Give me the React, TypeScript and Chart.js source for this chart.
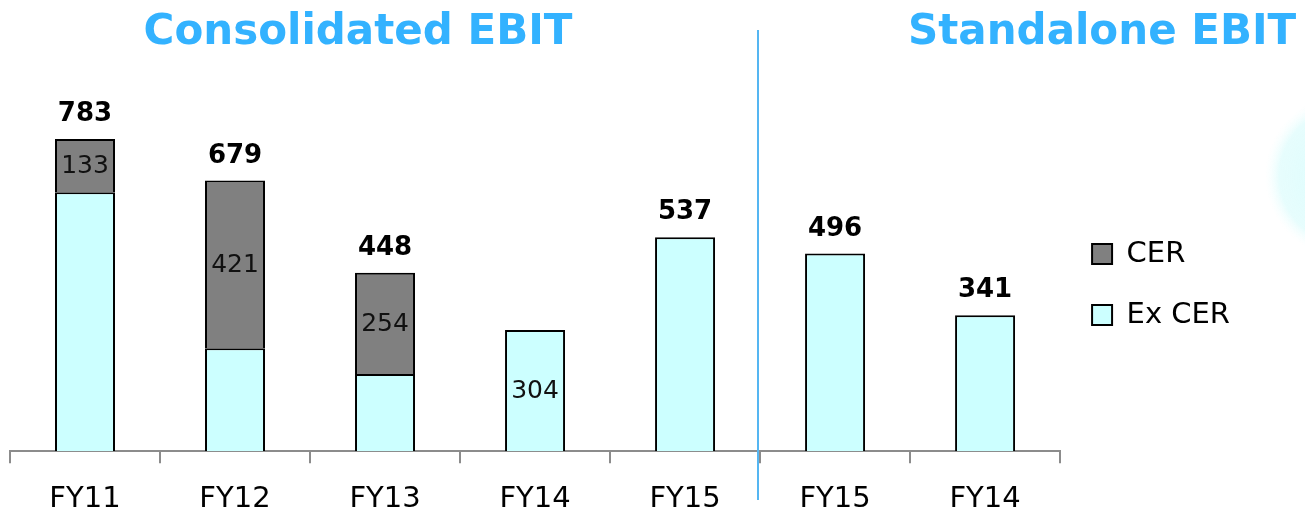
import React, { useEffect, useRef } from 'react';
import { Chart, registerables } from 'chart.js';

Chart.register(...registerables);

const categories = ['FY11', 'FY12', 'FY13', 'FY14', 'FY15', 'FY15', 'FY14'];
const exCerValues = [650, 258, 194, 304, 537, 496, 341];
const cerValues: (number | null)[] = [133, 421, 254, null, null, null, null];
const totalLabels: (number | null)[] = [783, 679, 448, null, 537, 496, 341];
const exCerInnerLabels: (number | null)[] = [null, null, null, 304, null, null, null];
const groupTitles = ['Consolidated EBIT', 'Standalone EBIT'];
const seriesNames = ['Ex CER', 'CER'];

const FONT = '"DejaVu Sans", Verdana, sans-serif';
const TITLE_COLOR = '#33B2FF';

const decorPlugin = {
  id: 'decor',
  beforeDraw(chart: any) {
    const { ctx, width } = chart;
    ctx.save();
    const cx = width + 42;
    const cy = 176;
    const g = ctx.createRadialGradient(cx, cy, 10, cx, cy, 82);
    g.addColorStop(0, 'rgba(210,252,252,0.8)');
    g.addColorStop(0.8, 'rgba(220,252,252,0.7)');
    g.addColorStop(1, 'rgba(240,255,255,0)');
    ctx.fillStyle = g;
    ctx.beginPath();
    ctx.arc(cx, cy, 82, 0, Math.PI * 2);
    ctx.fill();
    ctx.restore();
  },
  afterDraw(chart: any) {
    const { ctx } = chart;
    const xs = chart.scales.x;
    ctx.save();
    const sepX = Math.round((xs.getPixelForValue(4) + xs.getPixelForValue(5)) / 2) - 2;
    ctx.strokeStyle = '#55B6F2';
    ctx.lineWidth = 2;
    ctx.beginPath();
    ctx.moveTo(sepX, 30);
    ctx.lineTo(sepX, 500);
    ctx.stroke();
    ctx.fillStyle = TITLE_COLOR;
    ctx.font = `bold 42px ${FONT}`;
    ctx.textBaseline = 'alphabetic';
    ctx.textAlign = 'center';
    ctx.fillText(groupTitles[0], 358, 44);
    ctx.textAlign = 'left';
    ctx.fillText(groupTitles[1], 908, 44);
    ctx.restore();
  },
  afterDatasetsDraw(chart: any) {
    const { ctx } = chart;
    const exMeta = chart.getDatasetMeta(0);
    const cerMeta = chart.getDatasetMeta(1);
    ctx.save();
    ctx.textAlign = 'center';
    for (let i = 0; i < categories.length; i++) {
      const exEl = exMeta.data[i];
      const cerEl = cerMeta.data[i];
      const hasCer = cerValues[i] !== null;
      const topY = hasCer ? cerEl.y : exEl.y;
      if (totalLabels[i] !== null) {
        ctx.font = `bold 26px ${FONT}`;
        ctx.fillStyle = '#000';
        ctx.textBaseline = 'alphabetic';
        ctx.fillText(String(totalLabels[i]), exEl.x, topY - 18);
      }
      ctx.font = `25px ${FONT}`;
      ctx.fillStyle = '#111';
      ctx.textBaseline = 'middle';
      if (hasCer) {
        ctx.fillText(String(cerValues[i]), cerEl.x, (cerEl.y + cerEl.base) / 2 + 1);
      }
      if (exCerInnerLabels[i] !== null) {
        ctx.fillText(String(exCerInnerLabels[i]), exEl.x, (exEl.y + exEl.base) / 2 + 1);
      }
    }
    ctx.restore();
  },
};

export default function App() {
  const ref = useRef<HTMLCanvasElement>(null);
  useEffect(() => {
    if (!ref.current) return;
    const chart = new Chart(ref.current, {
      type: 'bar',
      data: {
        labels: categories,
        datasets: [
          {
            label: seriesNames[0],
            data: exCerValues,
            backgroundColor: '#CCFFFF',
            borderColor: '#000000',
            borderWidth: 2,
            categoryPercentage: 0.8,
            barPercentage: 0.5,
          },
          {
            label: seriesNames[1],
            data: cerValues,
            backgroundColor: '#808080',
            borderColor: '#000000',
            borderWidth: 2,
            categoryPercentage: 0.8,
            barPercentage: 0.5,
          },
        ],
      },
      options: {
        responsive: false,
        animation: false,
        devicePixelRatio: 1,
        layout: { padding: { left: 10, right: 65, top: 118, bottom: -13 } },
        scales: {
          x: {
            stacked: true,
            grid: {
              offset: true,
              drawOnChartArea: false,
              drawTicks: true,
              tickLength: 12,
              color: '#8c8c8c',
              lineWidth: 2,
            },
            border: { color: '#8c8c8c', width: 2 },
            ticks: { font: { family: FONT, size: 29 }, color: '#000', padding: 19, maxRotation: 0 },
          },
          y: { stacked: true, display: false, min: 0, max: 836 },
        },
        plugins: {
          legend: {
            position: 'right',
            fullSize: false,
            align: 'center',
            reverse: true,
            labels: {
              boxWidth: 20,
              boxHeight: 20,
              padding: 32,
              color: '#000',
              font: { family: FONT, size: 29 },
            },
          },
          tooltip: { enabled: false },
          title: { display: false },
        },
      },
      plugins: [decorPlugin],
    });
    return () => chart.destroy();
  }, []);
  return (
    <div style={{ position: 'absolute', left: 0, top: 0, width: 1305, height: 523, background: '#fff' }}>
      <canvas ref={ref} width={1305} height={523} style={{ display: 'block' }} />
    </div>
  );
}
